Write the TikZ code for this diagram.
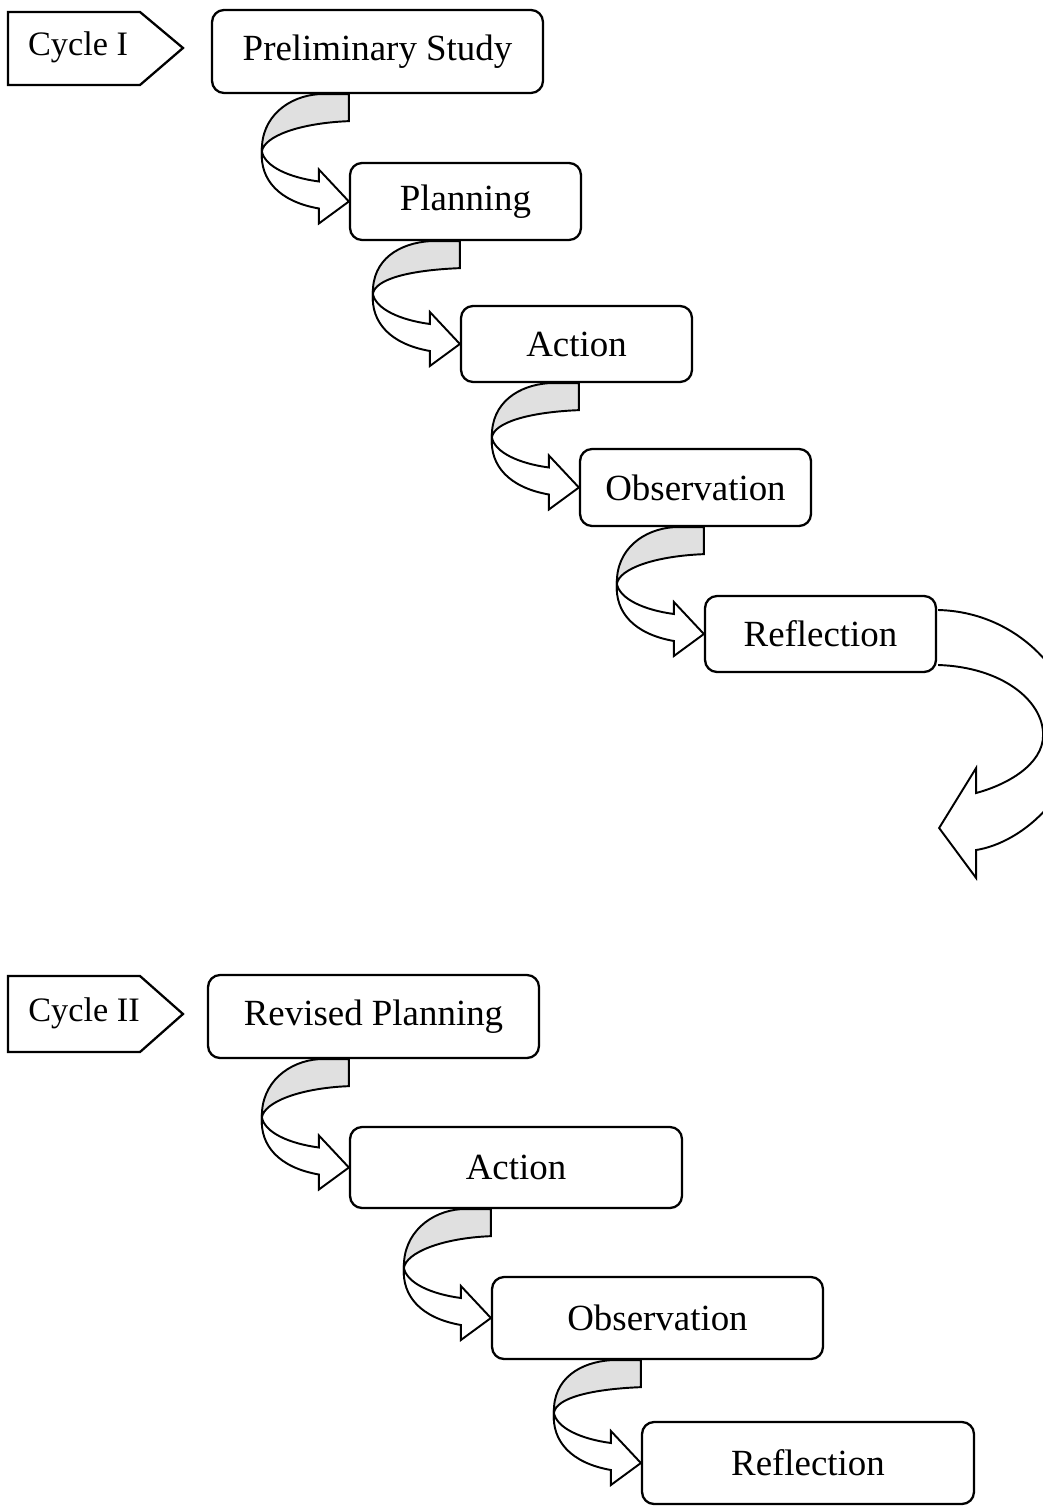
\documentclass[tikz,border=0pt]{standalone}
\usepackage{fontspec}
\setmainfont{Liberation Serif}
\usetikzlibrary{calc}
\tikzstyle{stage}=[draw,rounded corners=0.24cm,line width=1.3pt,inner sep=0pt,font=\fontsize{21}{25}\selectfont]
\tikzstyle{cyclename}=[inner sep=0pt,font=\fontsize{19.5}{23}\selectfont]
\tikzstyle{tag}=[draw,line width=1.3pt,line join=miter]
\tikzstyle{backside}=[draw,line width=1.1pt,fill=black!12]
\tikzstyle{frontside}=[draw,line width=1.1pt,fill=white]
\tikzstyle{bigturn}=[draw,line width=1.1pt]

% curled arrow from the bottom of #1 into the west side of #2
\newcommand{\uturn}[2]{%
  \coordinate (T) at (#2.west);
  \coordinate (P) at (#2.west |- #1.south);
  \coordinate (L) at ($(T)+(-87,-50)$);
  \path[backside] ($(P)+(-30,0)$) -- (P) -- ($(P)+(0,27)$)
     .. controls ($(P)+(-50,29)$) and ($(T)+(-85,-65)$) .. (L)
     .. controls ($(T)+(-88,-85)$) and ($(P)+(-60,2)$) .. ($(P)+(-30,0)$) -- cycle;
  \path[frontside] (L) .. controls ($(T)+(-84,-35)$) and ($(T)+(-60,-24)$) .. ($(T)+(-30,-20)$)
     -- ($(T)+(-30,-32)$) -- (T) -- ($(T)+(-30,22)$) -- ($(T)+(-30,7)$)
     .. controls ($(T)+(-70,0)$) and ($(T)+(-89,-22)$) .. (L) -- cycle;
}

\begin{document}
\begin{tikzpicture}[x=0.02cm,y=-0.02cm]
  \path[use as bounding box] (0,0) rectangle (1043,1506);
  \clip (0,0) rectangle (1043,1506);

  % cycle labels
  \node[cyclename] (cycA) at (78,47) {Cycle I};
  \draw[tag] (8,12) -- (140,12) -- (183,48) -- (140,85) -- (8,85) -- cycle;
  \node[cyclename] (cycB) at (84,1013) {Cycle II};
  \draw[tag] (8,976) -- (140,976) -- (183,1014) -- (140,1052) -- (8,1052) -- cycle;

  % stages
  \foreach \pos/\name/\txt/\w/\h in {{(377.5,51.5)/prelim/Preliminary Study/6.62/1.66},
      {(465.5,201.5)/planA/Planning/4.62/1.54},
      {(576.5,344)/actA/Action/4.62/1.52},
      {(695.5,487.5)/obsA/Observation/4.62/1.54},
      {(820.5,634)/reflA/Reflection/4.62/1.52},
      {(373.5,1016.5)/revplan/Revised Planning/6.62/1.66},
      {(516,1167.5)/actB/Action/6.64/1.62},
      {(657.5,1318)/obsB/Observation/6.62/1.64},
      {(808,1463)/reflB/Reflection/6.64/1.64}}
    \node[stage,minimum width=\w cm,minimum height=\h cm] (\name) at \pos {\txt};

  % curled arrows between stages
  \foreach \source/\dest in {prelim/planA, planA/actA, actA/obsA, obsA/reflA,
      revplan/actB, actB/obsB, obsB/reflB}
    \uturn{\source}{\dest};

  % arrow leaving cycle I
  \coordinate (E) at (reflA.east);
  \path[bigturn] ($(E)+(1,-24)$) .. controls ($(E)+(84,-22)$) and ($(E)+(139,46)$) .. ($(E)+(139,101)$)
     .. controls ($(E)+(139,161)$) and ($(E)+(84,209)$) .. ($(E)+(39,216)$)
     -- ($(E)+(39,244)$) -- ($(E)+(2,194)$) coordinate (loopend) -- ($(E)+(39,134)$) -- ($(E)+(39,159)$)
     .. controls ($(E)+(69,151)$) and ($(E)+(106,131)$) .. ($(E)+(106,101)$)
     .. controls ($(E)+(106,66)$) and ($(E)+(64,33)$) .. ($(E)+(1,31)$);
\end{tikzpicture}
\end{document}
